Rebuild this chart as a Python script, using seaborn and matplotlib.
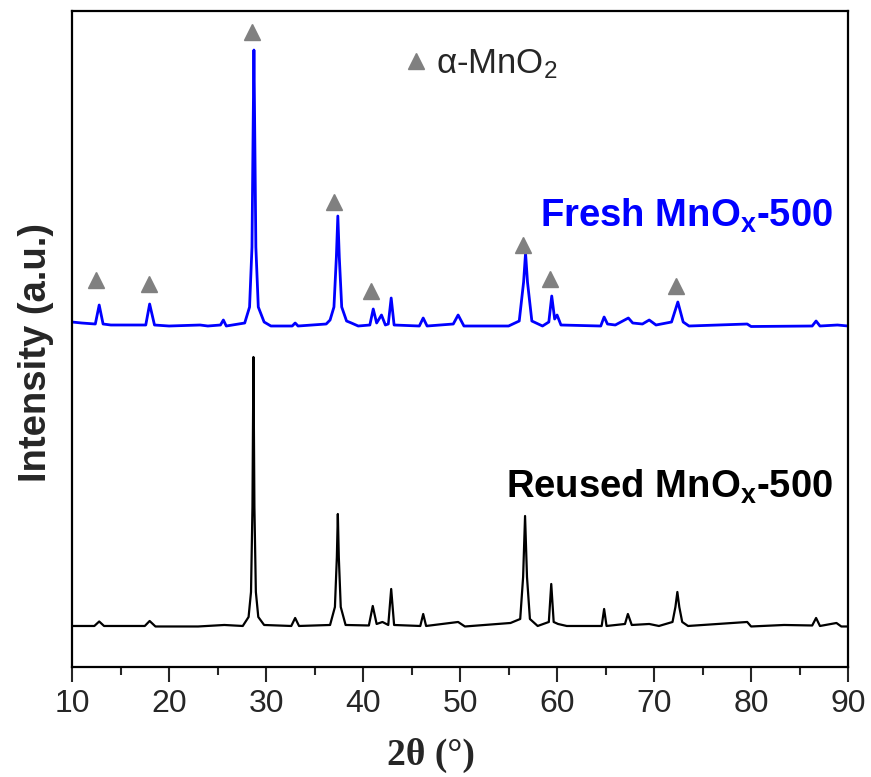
import matplotlib

matplotlib.use("Agg")
import matplotlib.pyplot as plt
import numpy as np
import pandas as pd
import seaborn as sns
from matplotlib.lines import Line2D
from matplotlib.ticker import MultipleLocator

# Reused MnOx-500 pattern (2theta, intensity a.u.)
reused_2theta = [10.0, 12.3, 12.8, 13.3, 17.5, 18.0, 18.6, 23.0, 25.7, 27.6,
                 28.2, 28.45, 28.6, 28.7, 28.8, 28.95, 29.2, 29.8, 32.6, 33.0,
                 33.4, 36.6, 37.1, 37.3, 37.4, 37.5, 37.7, 38.2, 40.6, 41.0,
                 41.4, 42.0, 42.6, 42.9, 43.2, 45.9, 46.2, 46.5, 49.8, 50.5,
                 55.2, 56.2, 56.5, 56.7, 56.9, 57.2, 58.0, 59.15, 59.4, 59.65,
                 60.1, 61.0, 64.6, 64.85, 65.1, 67.0, 67.3, 67.7, 69.5, 70.5,
                 71.9, 72.2, 72.4, 72.6, 72.9, 73.5, 79.6, 80.0, 83.4, 86.3,
                 86.7, 87.1, 88.8, 89.3, 90.0]
reused_int = [41, 41, 45.5, 41, 41, 46, 40.5, 40.5, 42, 41,
              50, 75, 160, 310, 160, 75, 50, 42, 41, 49,
              41, 42, 60, 110, 153, 110, 60, 42, 41.5, 61,
              43, 45, 42, 78, 42, 41, 53, 41, 45, 40.5,
              44, 48, 90, 151, 90, 48, 41, 45, 83, 45,
              43, 41, 41, 58, 41, 43, 53, 42, 43, 41,
              45, 60, 75, 60, 45, 41, 45, 40.5, 42, 41.5,
              49, 41, 44, 40.5, 40.5]

# Fresh MnOx-500 pattern (offset above the reused one)
fresh_2theta = [10.0, 11.0, 12.4, 12.8, 13.2, 14.0, 17.6, 18.0, 18.5, 20.0,
                23.2, 24.0, 25.3, 25.6, 25.9, 27.8, 28.3, 28.55, 28.65, 28.75,
                28.85, 28.95, 29.2, 29.8, 30.5, 32.7, 33.0, 33.3, 36.2, 36.6,
                37.0, 37.25, 37.4, 37.55, 37.8, 38.3, 38.8, 39.5, 40.7, 41.05,
                41.4, 41.9, 42.3, 42.6, 42.9, 43.2, 45.8, 46.2, 46.6, 49.3,
                49.8, 50.4, 55.0, 56.1, 56.55, 56.75, 56.95, 57.4, 58.5, 59.15,
                59.45, 59.75, 60.0, 60.4, 64.5, 64.85, 65.2, 66.0, 67.35, 67.8,
                68.8, 69.5, 70.2, 71.8, 72.45, 73.0, 73.6, 79.6, 80.0, 86.3,
                86.7, 87.1, 88.9, 90.0]
fresh_int = [345, 344, 343, 362, 343, 342, 342, 363, 342, 341,
             342, 341, 342, 347, 341, 344, 360, 420, 520, 617,
             520, 420, 360, 345, 341, 341, 344, 341, 343, 347,
             360, 410, 451, 410, 360, 346, 344, 341, 342, 358,
             344, 352, 342, 343, 369, 342, 341, 349, 341, 343,
             352, 341, 341, 346, 385, 414, 385, 346, 341, 345,
             371, 348, 352, 342, 341, 350, 343, 342, 349, 344,
             343, 347, 342, 345, 365, 345, 341, 343, 340.5, 341,
             346, 341, 342, 341]

# alpha-MnO2 reflections marked on the fresh pattern
mno2_2theta = [12.47, 17.9, 28.6, 37.0, 40.8, 56.45, 59.3, 72.27]
mno2_int = [387, 383, 635, 465, 376, 422, 388, 381]

reused = pd.DataFrame({"two_theta": reused_2theta, "intensity": reused_int})
fresh = pd.DataFrame({"two_theta": fresh_2theta, "intensity": fresh_int})
marks = pd.DataFrame({"two_theta": mno2_2theta, "intensity": mno2_int})

sns.set_style("ticks")
plt.rcParams["font.family"] = ["Liberation Sans", "DejaVu Sans"]
plt.rcParams["mathtext.default"] = "regular"

fig = plt.figure(figsize=(8.71, 7.77), dpi=100)
ax = fig.add_axes([0.0827, 0.1416, 0.891, 0.8442])

sns.lineplot(data=reused, x="two_theta", y="intensity", sort=False,
             estimator=None, color="black", lw=1.6, ax=ax)
sns.lineplot(data=fresh, x="two_theta", y="intensity", sort=False,
             estimator=None, color="#0000ff", lw=2.0, ax=ax)
ax.plot(marks["two_theta"], marks["intensity"], ls="", marker="^",
        ms=12, color="#808080", mec="#808080")

ax.set_xlim(10, 90)
ax.set_ylim(0, 656)
ax.xaxis.set_major_locator(MultipleLocator(10))
ax.xaxis.set_minor_locator(MultipleLocator(5))
ax.set_yticks([])
ax.tick_params(axis="x", which="major", direction="out", length=11, width=1.5,
               labelsize=23, pad=5, top=False)
ax.tick_params(axis="x", which="minor", direction="out", length=6, width=1.5,
               top=False)
for sp in ax.spines.values():
    sp.set_linewidth(1.6)
    sp.set_color("black")

ax.set_xlabel("2θ (°)", fontsize=27, fontweight="bold",
              family=["Liberation Serif", "DejaVu Serif"])
ax.xaxis.set_label_coords(0.4626, -0.108)
ax.set_ylabel("Intensity (a.u.)", fontsize=27.5, fontweight="bold")
ax.yaxis.set_label_coords(-0.023, 0.479)

ax.text(88.45, 440, "Fresh MnO$_x$-500", color="#0000ff", fontsize=27.5,
        fontweight="bold", ha="right", va="baseline")
ax.text(88.45, 169, "Reused MnO$_x$-500", color="black", fontsize=27.5,
        fontweight="bold", ha="right", va="baseline")

handle = Line2D([], [], ls="", marker="^", ms=12, color="#808080",
                label="α-MnO$_2$")
ax.legend(handles=[handle], loc="center left",
          bbox_to_anchor=((405 - 72) / 776, (667 - 64) / 656),
          frameon=False, fontsize=25, handlelength=0.65, handletextpad=0.25,
          borderpad=0, borderaxespad=0)

fig.savefig("out.png", dpi=100)
